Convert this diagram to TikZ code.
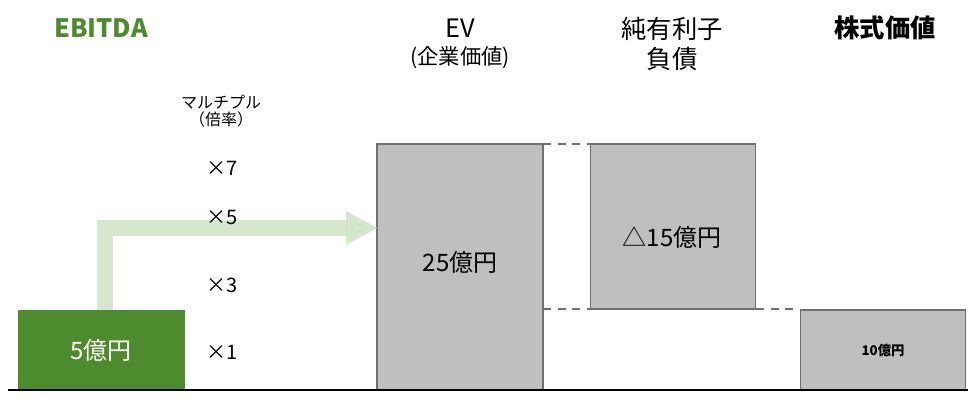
\documentclass[tikz,border=0pt]{standalone}
\usepackage{fontspec}
\setmainfont{Noto Sans CJK JP}
\usetikzlibrary{arrows.meta}
\definecolor{dgreen}{HTML}{4E8A2E}
\definecolor{lgreen}{HTML}{CFE3C6}
\definecolor{boxg}{HTML}{BFBFBF}
\definecolor{edg}{HTML}{707070}
\begin{document}
\begin{tikzpicture}[x=0.75pt,y=-0.75pt,
  gbox/.style={draw=edg,line width=1.2pt,fill=boxg},
  lbl/.style={font=\fontsize{19}{22}\selectfont,align=center},
  mult/.style={font=\fontsize{15}{17}\selectfont},
  bt/.style={font=\fontsize{18}{20}\selectfont},
  dsh/.style={draw=edg,line width=1pt,dash pattern=on 6pt off 5pt}]
\useasboundingbox (0,0) rectangle (972,402);
% boxes
\node[fill=dgreen,draw=dgreen,minimum width=124.5pt,minimum height=60pt,inner sep=0,text=white,bt] (eb) at (101,350) {5億円};
\node[gbox,minimum width=124.5pt,minimum height=184.5pt,inner sep=0] (ev) at (460,267) {};
\node[bt] (evt) at (460,262) {25億円};
\node[gbox,minimum width=124pt,minimum height=124pt,inner sep=0,bt] (debt) at (673,226.5) {};
\node[bt] (dt) at (672,237) {△15億円};
\node[gbox,minimum width=124pt,minimum height=60pt,inner sep=0,bt,font=\bfseries] (eq) at (883,350) {10億円};
% dashed
\coordinate (d1) at (543,144); \coordinate (d2) at (590,144);
\coordinate (d3) at (543,309); \coordinate (d4) at (590,309);
\coordinate (d5) at (756,309); \coordinate (d6) at (800,309);
\draw[dsh] (d1) -- (d2);
\draw[dsh] (d3) -- (d4);
\draw[dsh] (d5) -- (d6);
% arrow
\coordinate (a0) at (105,310); \coordinate (a1) at (105,228); \coordinate (a2) at (378,228);
\draw[lgreen,line width=12pt,opacity=0.85,-{Triangle[length=24pt,width=24pt]}] (a0) -- (a1) -- (a2);
% baseline
\coordinate (b0) at (8,390); \coordinate (b1) at (968,390);
\draw[black,line width=2pt] (b0) -- (b1);
% labels
\node[text=dgreen,font=\bfseries\fontsize{19}{22}\selectfont] (l1) at (101,28) {EBITDA};
\node[lbl] (l2) at (460,44) {EV\\[-2pt]{\fontsize{16}{18}\selectfont (企業価値)}};
\node[lbl] (l3) at (672,44) {純有利子\\負債};
\node[font=\bfseries\fontsize{19}{22}\selectfont] (l4) at (885,28) {株式価値};
\node[align=center,font=\fontsize{12}{13}\selectfont] (m) at (221,111) {マルチプル\\（倍率）};
\node[mult] (m7) at (222,168) {×7};
\node[mult] (m5) at (222,218) {×5};
\node[mult] (m3) at (222,285) {×3};
\node[mult] (m1) at (222,352) {×1};
\end{tikzpicture}
\end{document}
